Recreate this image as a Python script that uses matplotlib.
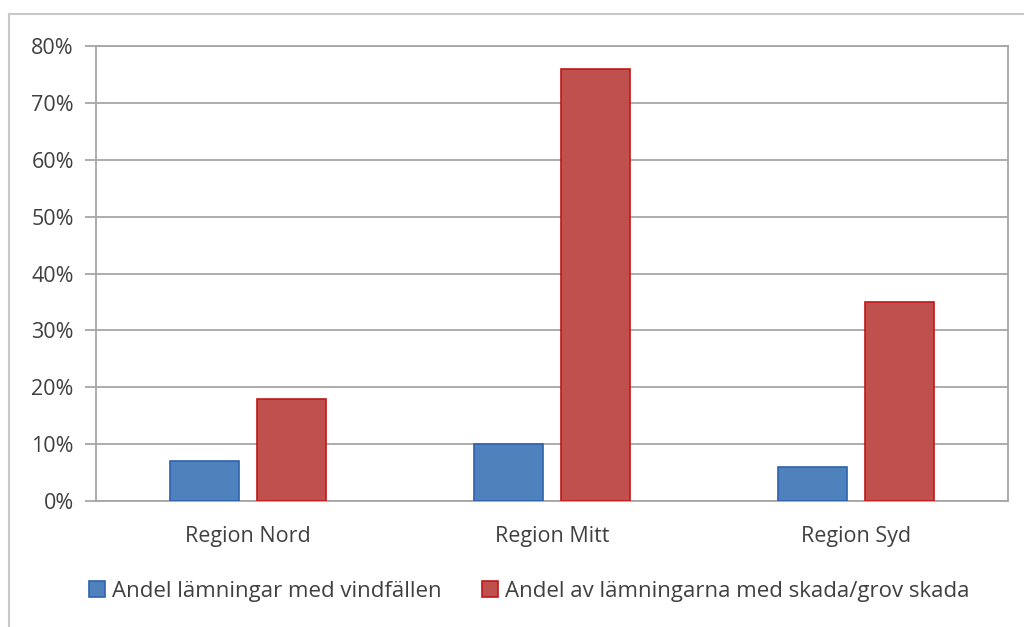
import matplotlib
matplotlib.use("Agg")
import matplotlib.pyplot as plt
import numpy as np
from matplotlib.lines import Line2D
from matplotlib.ticker import PercentFormatter

regions = ["Region Nord", "Region Mitt", "Region Syd"]
vindfallen = [7, 10, 6]
skada = [18, 76, 35]
series_labels = ["Andel lämningar med vindfällen",
                 "Andel av lämningarna med skada/grov skada"]

plt.rcParams['font.family'] = ['Open Sans', 'DejaVu Sans']

fig = plt.figure(figsize=(10.24, 6.27), dpi=100)
ax = fig.add_axes([96 / 1024, 1 - 501 / 627, (1008 - 96) / 1024, (501 - 46) / 627])

x = np.arange(len(regions))
w = 0.224
off = 0.143
ax.bar(x - off, vindfallen, w, color="#4F81BD", edgecolor="#2E62AE", linewidth=1.2,
       label=series_labels[0], zorder=3)
ax.bar(x + off, skada, w, color="#C0504D", edgecolor="#C01818", linewidth=1.2,
       label=series_labels[1], zorder=3)

ax.set_xlim(-0.5, 2.5)
ax.set_ylim(0, 80)
ax.set_yticks(range(0, 81, 10))
ax.yaxis.set_major_formatter(PercentFormatter(decimals=0))
ax.set_xticks(x)
ax.set_xticklabels(regions)

ax.grid(axis="y", color="#A6A6A6", linewidth=1.3, zorder=0)
for s in ["top", "right", "left", "bottom"]:
    ax.spines[s].set_color("#A6A6A6")
    ax.spines[s].set_linewidth(1.3)
ax.tick_params(axis="y", length=8, width=1.3, color="#A6A6A6", labelsize=15.5,
               labelcolor="#404040", pad=8)
ax.tick_params(axis="x", length=0, labelsize=15.5, labelcolor="#404040", pad=18)

ax.legend(loc="center", bbox_to_anchor=((529 - 96) / 912, -90 / 455), ncol=2,
          frameon=False, fontsize=16, handlelength=0.75, handleheight=0.75,
          handletextpad=0.3, columnspacing=1.8, labelcolor="#404040")

# outer chart frame (top and left edges visible)
fig.add_artist(Line2D([9 / 1024, 9 / 1024], [0, 1 - 14 / 627], color="#C8C8C8",
                      linewidth=1.5, transform=fig.transFigure))
fig.add_artist(Line2D([9 / 1024, 1], [1 - 14 / 627, 1 - 14 / 627], color="#C8C8C8",
                      linewidth=1.5, transform=fig.transFigure))

fig.savefig("out.png", dpi=100)
